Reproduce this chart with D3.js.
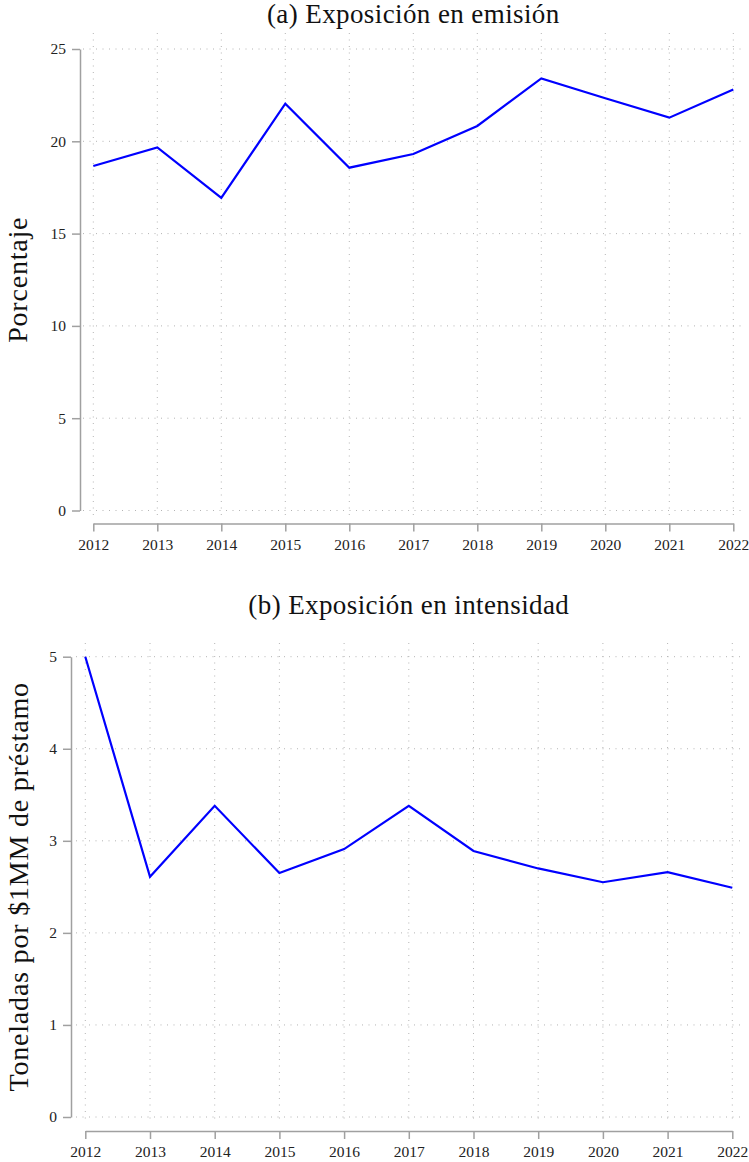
<!DOCTYPE html>
<html>
<head>
<meta charset="utf-8">
<script src="https://cdn.jsdelivr.net/npm/d3@7"></script>
<style>
  html, body { margin: 0; padding: 0; background: #fff; }
  svg { display: block; font-family: "Liberation Serif", "DejaVu Serif", serif; }
  .grid line { stroke: #b4b4b4; stroke-width: 1; stroke-dasharray: 1 5.5; }
  .axis path, .axis line { stroke: #a0a0a0; stroke-width: 1.5; }
  .axis text { fill: #222; font-size: 15.5px; font-family: "Liberation Serif", "DejaVu Serif", serif; }
</style>
</head>
<body>
<script>
// Years on the horizontal axis
const years = [2012, 2013, 2014, 2015, 2016, 2017, 2018, 2019, 2020, 2021, 2022];

// (a) Exposure in emissions, percent
const emisionPct = [18.66, 19.67, 16.94, 22.04, 18.57, 19.31, 20.83, 23.41, 22.33, 21.28, 22.80];

// (b) Exposure in intensity, tonnes per $1MM of loans
const intensidadTon = [5.00, 2.61, 3.38, 2.65, 2.91, 3.38, 2.89, 2.70, 2.55, 2.66, 2.49];

// Tick values
const emisionTicks = [0, 5, 10, 15, 20, 25];
const intensidadTicks = [0, 1, 2, 3, 4, 5];

// Panel titles and y labels
const titles = ["(a) Exposición en emisión", "(b) Exposición en intensidad"];
const yLabels = ["Porcentaje", "Toneladas por $1MM de préstamo"];

const W = 749, H = 1162;
const svg = d3.select("body").append("svg").attr("width", W).attr("height", H);

const panels = [
  {
    values: emisionPct, ticks: emisionTicks, title: titles[0], ylabel: yLabels[0],
    domain: [0, 25],
    spineX: 80, xRange: [93.3, 733.3], yRange: [510.5, 49],
    xAxisY: 523.5, gridTop: 33, gridBottom: 517, gridLeft: 83, gridRight: 742,
    titleY: 23, ylabelX: 27
  },
  {
    values: intensidadTon, ticks: intensidadTicks, title: titles[1], ylabel: yLabels[1],
    domain: [0, 5],
    spineX: 71, xRange: [85.3, 732.3], yRange: [1117, 656.7],
    xAxisY: 1131, gridTop: 643, gridBottom: 1123, gridLeft: 76, gridRight: 744,
    titleY: 614, ylabelX: 28
  }
];

panels.forEach(p => {
  const x = d3.scaleLinear().domain([years[0], years[years.length - 1]]).range(p.xRange);
  const y = d3.scaleLinear().domain(p.domain).range(p.yRange);
  const g = svg.append("g");

  // dotted grid
  const grid = g.append("g").attr("class", "grid");
  grid.selectAll("line.v").data(years).join("line").attr("class", "v")
    .attr("x1", d => x(d)).attr("x2", d => x(d))
    .attr("y1", p.gridTop).attr("y2", p.gridBottom);
  grid.selectAll("line.h").data(p.ticks).join("line").attr("class", "h")
    .attr("x1", p.gridLeft).attr("x2", p.gridRight)
    .attr("y1", d => y(d)).attr("y2", d => y(d));

  // y axis
  g.append("g").attr("class", "axis")
    .attr("transform", `translate(${p.spineX},0)`)
    .call(d3.axisLeft(y).tickValues(p.ticks).tickSize(8).tickSizeOuter(0).tickPadding(6).tickFormat(d3.format("d")))
    .attr("font-family", null).attr("font-size", null);

  // x axis
  g.append("g").attr("class", "axis")
    .attr("transform", `translate(0,${p.xAxisY})`)
    .call(d3.axisBottom(x).tickValues(years).tickSize(8).tickSizeOuter(0).tickPadding(7).tickFormat(d3.format("d")))
    .attr("font-family", null).attr("font-size", null);

  // series line
  const line = d3.line().x((d, i) => x(years[i])).y(d => y(d));
  g.append("path").datum(p.values)
    .attr("fill", "none").attr("stroke", "#0000ff").attr("stroke-width", 2.2)
    .attr("stroke-linejoin", "miter")
    .attr("d", line);

  // title
  g.append("text")
    .attr("x", (p.xRange[0] + p.xRange[1]) / 2).attr("y", p.titleY)
    .attr("text-anchor", "middle").attr("fill", "#111").attr("font-size", 27)
    .attr("letter-spacing", 0.4)
    .text(p.title);

  // y label
  const cy = (p.yRange[0] + p.yRange[1]) / 2;
  g.append("text")
    .attr("transform", `translate(${p.ylabelX},${cy}) rotate(-90)`)
    .attr("text-anchor", "middle").attr("fill", "#111").attr("font-size", 28)
    .attr("letter-spacing", 0.8)
    .text(p.ylabel);
});
</script>
</body>
</html>
